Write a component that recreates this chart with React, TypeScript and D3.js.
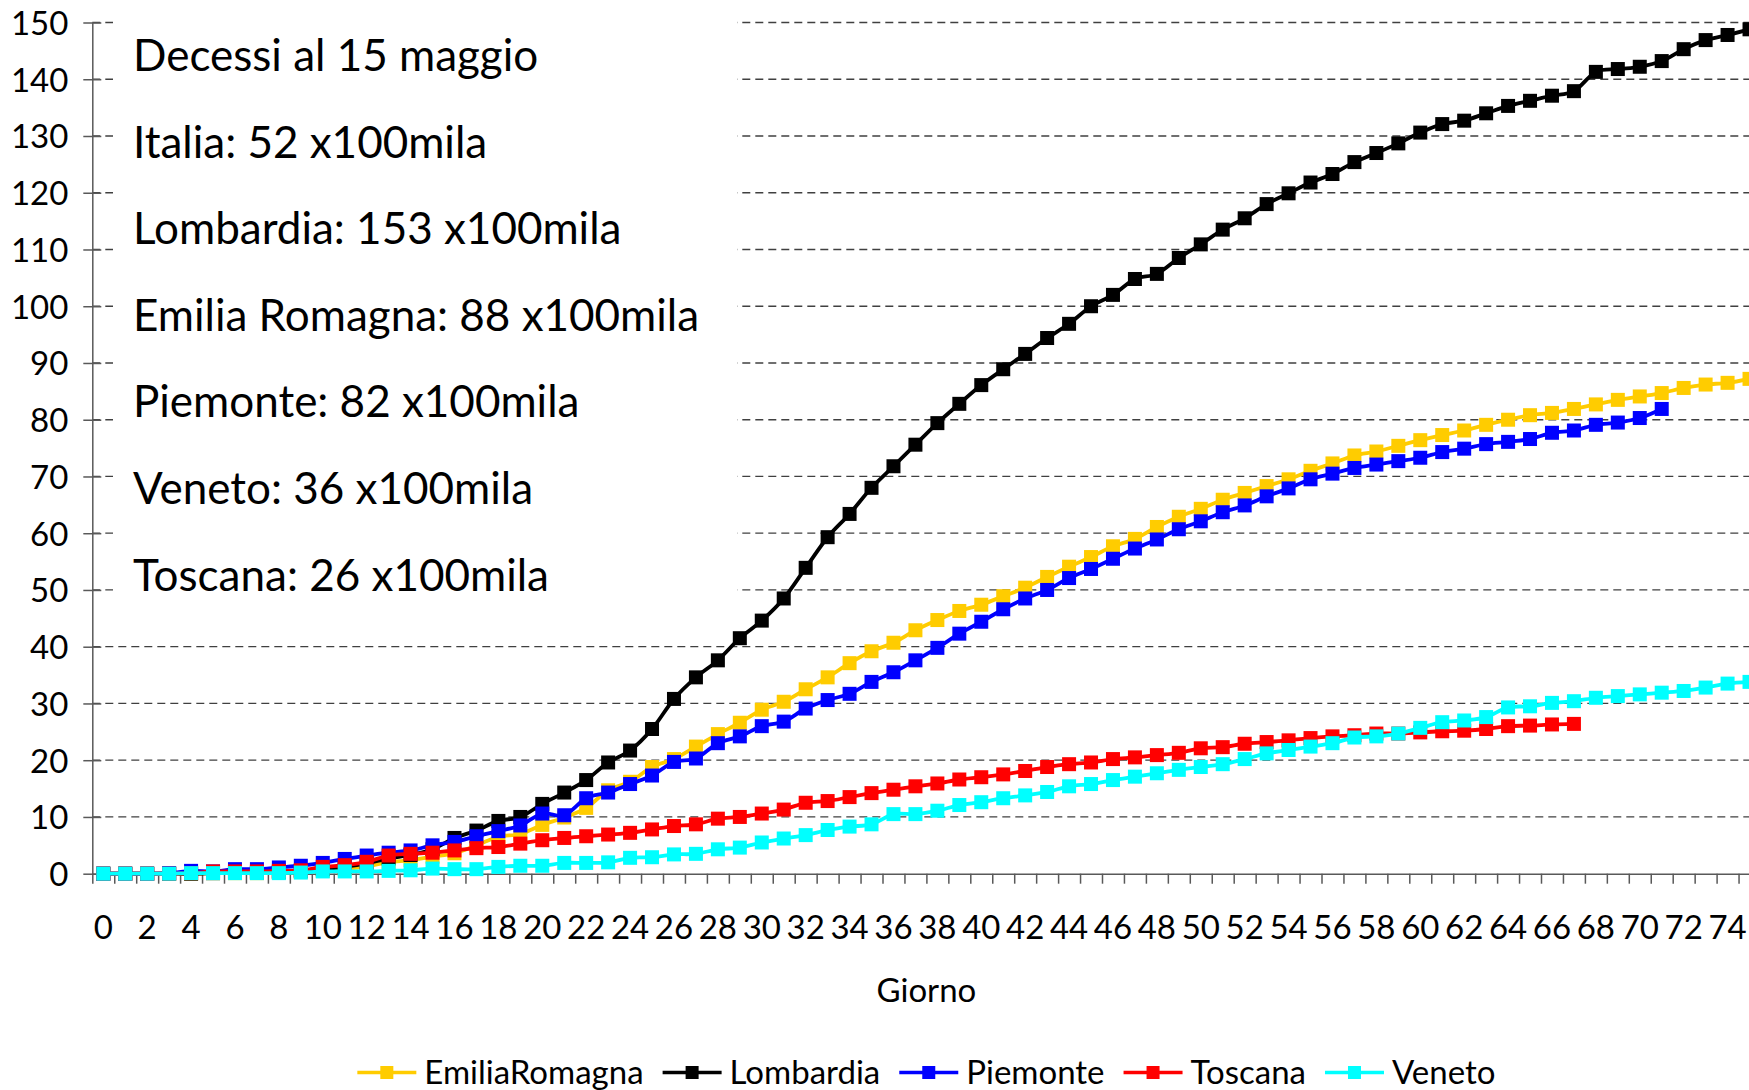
import React, { useEffect, useRef } from 'react';
import * as d3 from 'd3';

// giorni (categorie dell'asse x)
const days: number[] = d3.range(0, 76);
const dayLabels = days.filter(d => d % 2 === 0);
const yTicks = [0, 10, 20, 30, 40, 50, 60, 70, 80, 90, 100, 110, 120, 130, 140, 150];

// decessi x100mila abitanti, per giorno
const emiliaRomagna = [
  0, 0, 0, 0, 0, 0.1, 0.1, 0.1, 0.2, 0.3,
  0.5, 0.8, 1.3, 2.0, 2.4, 3.0, 3.6, 5.0, 6.5, 7.0,
  8.6, 9.9, 11.6, 14.7, 16.2, 18.8, 20.2, 22.4, 24.6, 26.6,
  28.9, 30.3, 32.5, 34.6, 37.1, 39.2, 40.7, 42.9, 44.7, 46.3,
  47.4, 48.9, 50.4, 52.3, 54.1, 55.8, 57.7, 59.0, 61.1, 62.9,
  64.3, 65.9, 67.1, 68.3, 69.5, 71.0, 72.3, 73.7, 74.4, 75.4,
  76.4, 77.3, 78.1, 79.1, 80.0, 80.8, 81.2, 81.9, 82.7, 83.5,
  84.1, 84.7, 85.6, 86.2, 86.5, 87.2,
];
const lombardia = [
  0, 0, 0, 0, 0, 0.1, 0.2, 0.2, 0.3, 0.5,
  0.8, 1.2, 1.8, 2.7, 3.3, 4.3, 6.3, 7.6, 9.3, 10.0,
  12.3, 14.3, 16.5, 19.6, 21.7, 25.5, 30.8, 34.6, 37.6, 41.5,
  44.6, 48.5, 53.9, 59.3, 63.4, 68.0, 71.8, 75.6, 79.4, 82.8,
  86.1, 88.9, 91.6, 94.4, 96.9, 100.0, 102.0, 104.8, 105.7, 108.5,
  110.9, 113.5, 115.5, 118.0, 119.9, 121.8, 123.3, 125.4, 127.0, 128.7,
  130.6, 132.1, 132.7, 134.0, 135.3, 136.2, 137.1, 137.9, 141.3, 141.8,
  142.2, 143.2, 145.3, 146.9, 147.8, 148.8,
];
const piemonte = [
  0, 0, 0, 0.1, 0.5, 0.4, 0.8, 0.8, 1.1, 1.4,
  1.9, 2.6, 3.2, 3.7, 4.1, 5.0, 5.6, 6.6, 7.5, 8.5,
  10.6, 10.3, 13.3, 14.3, 15.8, 17.3, 19.7, 20.3, 23.0, 24.2,
  26.0, 26.8, 29.1, 30.6, 31.7, 33.8, 35.5, 37.6, 39.8, 42.3,
  44.4, 46.6, 48.5, 50.0, 52.1, 53.7, 55.5, 57.3, 58.9, 60.7,
  62.1, 63.7, 64.9, 66.5, 67.9, 69.5, 70.5, 71.5, 72.1, 72.7,
  73.3, 74.3, 74.9, 75.7, 76.1, 76.6, 77.7, 78.1, 79.1, 79.5,
  80.3, 81.9,
];
const toscana = [
  0, 0, 0, 0, 0.1, 0.4, 0.4, 0.4, 0.5, 0.6,
  1.2, 1.5, 2.1, 3.2, 3.5, 3.7, 4.1, 4.5, 4.7, 5.3,
  5.9, 6.3, 6.6, 6.9, 7.2, 7.8, 8.4, 8.7, 9.7, 10.0,
  10.6, 11.3, 12.5, 12.8, 13.5, 14.2, 14.8, 15.4, 15.9, 16.6,
  17.0, 17.5, 18.1, 18.8, 19.3, 19.6, 20.2, 20.5, 20.9, 21.3,
  22.1, 22.3, 22.9, 23.2, 23.5, 23.9, 24.2, 24.4, 24.7, 24.7,
  24.9, 25.1, 25.2, 25.5, 26.0, 26.1, 26.3, 26.4,
];
const veneto = [
  0, 0, 0, 0, 0.1, 0.1, 0.1, 0.1, 0.1, 0.2,
  0.4, 0.4, 0.4, 0.5, 0.6, 0.9, 0.8, 0.8, 1.2, 1.4,
  1.4, 1.9, 1.9, 2.0, 2.8, 2.9, 3.4, 3.5, 4.3, 4.6,
  5.5, 6.2, 6.8, 7.7, 8.3, 8.7, 10.5, 10.5, 11.1, 12.1,
  12.6, 13.3, 13.8, 14.4, 15.4, 15.8, 16.5, 17.1, 17.7, 18.3,
  18.8, 19.3, 20.2, 21.2, 21.8, 22.4, 23.0, 24.0, 24.2, 24.7,
  25.7, 26.7, 27.0, 27.6, 29.3, 29.5, 30.1, 30.4, 31.0, 31.3,
  31.6, 31.9, 32.2, 32.8, 33.5, 33.8,
];

const seriesNames = ['EmiliaRomagna', 'Lombardia', 'Piemonte', 'Toscana', 'Veneto'];
const seriesValues = [emiliaRomagna, lombardia, piemonte, toscana, veneto];
const seriesColors = ['#FFCC00', '#000000', '#0000FF', '#FF0000', '#00FFFF'];

const noteLines = [
  'Decessi al 15 maggio',
  'Italia: 52 x100mila',
  'Lombardia: 153 x100mila',
  'Emilia Romagna: 88 x100mila',
  'Piemonte: 82 x100mila',
  'Veneto: 36 x100mila',
  'Toscana: 26 x100mila',
];

const W = 1749;
const H = 1090;
const FONT = "Lato, 'Open Sans', sans-serif";
const AXIS = '#595959';

function drawChart(node: SVGSVGElement) {
  const svg = d3.select(node);
  svg.selectAll('*').remove();

  const left = 92.3;
  const step = 21.95;
  const right = left + step * days.length;

  const x = d3.scaleBand<number>().domain(days).range([left, right]);
  const xEdge = d3.scaleLinear().domain([0, days.length]).range([left, right]);
  const y = d3.scaleLinear().domain([0, 150]).range([873.7, 22.5]);
  const cx = (d: number) => (x(d) as number) + x.bandwidth() / 2;

  svg.append('rect').attr('width', W).attr('height', H).attr('fill', '#fff');

  // griglia tratteggiata
  svg.append('g')
    .selectAll('line')
    .data(yTicks.filter(v => v > 0))
    .join('line')
    .attr('x1', left)
    .attr('x2', right)
    .attr('y1', d => y(d))
    .attr('y2', d => y(d))
    .attr('stroke', '#404040')
    .attr('stroke-width', 1.3)
    .attr('stroke-dasharray', '8,5');

  // casella di testo (copre la griglia)
  svg.append('rect')
    .attr('x', 113).attr('y', 0)
    .attr('width', 624).attr('height', 615)
    .attr('fill', '#fff');

  // asse y
  const gy = svg.append('g')
    .attr('transform', `translate(${left},0)`)
    .call(d3.axisLeft(y).tickValues(yTicks).tickSizeInner(9).tickSizeOuter(0));
  gy.select('.domain').attr('stroke', AXIS).attr('stroke-width', 1.5);
  gy.selectAll('.tick line').attr('x1', 9).attr('stroke', AXIS).attr('stroke-width', 1.5);
  gy.selectAll('.tick text')
    .attr('x', -24)
    .attr('dy', '0.36em')
    .attr('fill', '#000')
    .style('font-family', FONT)
    .style('font-size', '33px');

  // asse x: tacche ai bordi delle categorie
  const gx = svg.append('g')
    .attr('transform', `translate(0,${y(0)})`)
    .call(d3.axisBottom(xEdge).tickValues(d3.range(0, days.length + 1))
      .tickSizeInner(10).tickSizeOuter(0).tickFormat(() => ''));
  gx.select('.domain').attr('stroke', AXIS).attr('stroke-width', 1.5);
  gx.selectAll('.tick line').attr('stroke', AXIS).attr('stroke-width', 1.5);

  const gxl = svg.append('g')
    .attr('transform', `translate(0,${y(0)})`)
    .call(d3.axisBottom(x).tickValues(dayLabels).tickSize(0));
  gxl.select('.domain').remove();
  gxl.selectAll('.tick text')
    .attr('y', 65.8)
    .attr('dy', 0)
    .attr('fill', '#000')
    .style('font-family', FONT)
    .style('font-size', '33px');

  // serie
  const line = d3.line<number>()
    .x((_, i) => cx(days[i]))
    .y(v => y(v))
    .curve(d3.curveCardinal.tension(0));

  const ms = 14;
  seriesValues.forEach((vals, k) => {
    const g = svg.append('g');
    g.append('path')
      .attr('d', line(vals))
      .attr('fill', 'none')
      .attr('stroke', seriesColors[k])
      .attr('stroke-width', 3.8)
      .attr('stroke-linejoin', 'round');
    g.selectAll('rect')
      .data(vals)
      .join('rect')
      .attr('x', (_, i) => cx(days[i]) - ms / 2)
      .attr('y', v => y(v) - ms / 2)
      .attr('width', ms)
      .attr('height', ms)
      .attr('fill', seriesColors[k]);
  });

  // testo annotazioni
  svg.append('g')
    .selectAll('text')
    .data(noteLines)
    .join('text')
    .attr('x', 133)
    .attr('y', (_, i) => 71 + i * 86.6)
    .style('font-family', FONT)
    .style('font-size', '44px')
    .attr('fill', '#000')
    .text(d => d);

  // titolo asse x
  svg.append('text')
    .attr('x', (left + right) / 2)
    .attr('y', 1001.5)
    .attr('text-anchor', 'middle')
    .style('font-family', FONT)
    .style('font-size', '33px')
    .text('Giorno');

  // legenda
  const lineLen = 59;
  const gapText = 8;
  const gapItem = 19;
  const legY = 1072.5;
  const leg = svg.append('g');
  const items = seriesNames.map((name, k) => {
    const item = leg.append('g');
    item.append('line')
      .attr('x1', 0).attr('x2', lineLen)
      .attr('y1', legY).attr('y2', legY)
      .attr('stroke', seriesColors[k]).attr('stroke-width', 3.5);
    item.append('rect')
      .attr('x', lineLen / 2 - 6.5).attr('y', legY - 6.5)
      .attr('width', 13).attr('height', 13)
      .attr('fill', seriesColors[k]);
    const t = item.append('text')
      .attr('x', lineLen + gapText)
      .attr('y', 1084)
      .style('font-family', FONT)
      .style('font-size', '33px')
      .text(name);
    const tw = (t.node() as SVGTextElement).getComputedTextLength();
    return { item, w: lineLen + gapText + tw };
  });
  const total = d3.sum(items, d => d.w) + gapItem * (items.length - 1);
  let pos = (left + right) / 2 - total / 2;
  items.forEach(({ item, w }) => {
    item.attr('transform', `translate(${pos},0)`);
    pos += w + gapItem;
  });
}

export default function App() {
  const ref = useRef<SVGSVGElement | null>(null);

  useEffect(() => {
    if (ref.current) drawChart(ref.current);
  }, []);

  return (
    <svg
      ref={ref}
      width={W}
      height={H}
      style={{ position: 'absolute', left: 0, top: 0, display: 'block', background: '#fff' }}
    />
  );
}
